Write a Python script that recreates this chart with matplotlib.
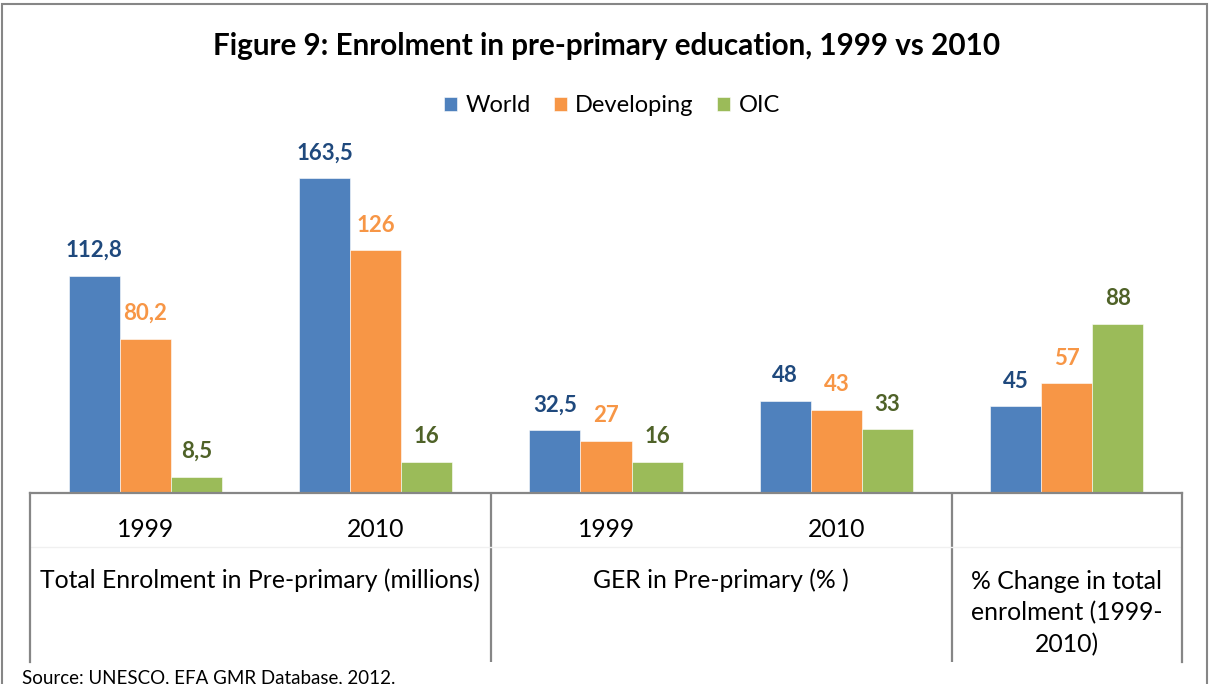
import matplotlib
matplotlib.use("Agg")
import matplotlib.pyplot as plt
from matplotlib.patches import Rectangle
import numpy as np

plt.rcParams['font.family'] = ['Lato', 'DejaVu Sans']

# Data
categories = ["1999", "2010", "1999", "2010", ""]
group_labels = ["Total Enrolment in Pre-primary (millions)",
                "GER in Pre-primary (% )",
                "% Change in total\nenrolment (1999-\n2010)"]
series_names = ["World", "Developing", "OIC"]
world = [112.8, 163.5, 32.5, 48, 45]
developing = [80.2, 126, 27, 43, 57]
oic = [8.5, 16, 16, 33, 88]

bar_colors = ["#4F81BD", "#F79646", "#9BBB59"]
label_colors = ["#1F497D", "#F79646", "#4F6228"]
axis_grey = "#868686"

W, H = 1212, 684
fig = plt.figure(figsize=(W / 100, H / 100), dpi=100)

def fx(px):
    return px / W

def fy(py):
    return 1 - py / H

# Plot area: baseline at y=493, left 30, right 1182
left, right, base, top = 30, 1182, 493, 150
ax = fig.add_axes([fx(left), fy(base), fx(right - left), (base - top) / H])
ax.set_xlim(-0.5, 4.5)
ax.set_ylim(0, (base - top) / 1.925)
ax.axis("off")
ax.axhline(0, color=axis_grey, lw=1.6, clip_on=False, zorder=5)

x = np.arange(len(categories))
bw = 0.2214
series = [world, developing, oic]
bars = []
for i, vals in enumerate(series):
    b = ax.bar(x + (i - 1) * bw, vals, width=bw, color=bar_colors[i],
               edgecolor="white", linewidth=0.4, label=series_names[i], zorder=3)
    bars.append(b)
    for xi, v in zip(x, vals):
        txt = f"{v:g}".replace(".", ",")
        ax.annotate(txt, (xi + (i - 1) * bw, v), xytext=(0, 13.5),
                    textcoords="offset points", ha="center", va="baseline",
                    fontsize=16, fontweight="bold", color=label_colors[i])

# Category table below the baseline
tbl_bottom = 662
ax2 = fig.add_axes([fx(left), fy(tbl_bottom), fx(right - left), (tbl_bottom - base) / H])
ax2.set_xlim(-0.5, 4.5)
ax2.set_ylim(tbl_bottom - base, 0)
ax2.set_xticks([])
ax2.set_yticks([])
for s in ["top", "bottom"]:
    ax2.spines[s].set_visible(False)
for s in ["left", "right"]:
    ax2.spines[s].set_color(axis_grey)
    ax2.spines[s].set_linewidth(1.6)
ax2.patch.set_alpha(0)
for xv in [1.5, 3.5]:
    ax2.axvline(xv, color=axis_grey, lw=1.6)
ax2.axhline(54, color="#f0f0f0", lw=1.0)

for xi, c in zip(x, categories):
    if c:
        ax2.text(xi, 537 - base, c, ha="center", va="baseline", fontsize=17.8, color="black")

# Group labels: first line baseline sits at y=588 px, lines 32 px apart
group_centers = [0.5, 2.5, 4.0]
for gc, gl in zip(group_centers, group_labels):
    n_lines = gl.count("\n")
    ax2.text(gc, 588 + 32 * n_lines - base, gl, ha="center", va="baseline",
             fontsize=17.8, color="black", linespacing=1.42,
             multialignment="center")

# Title and legend
fig.text(fx(607), fy(55), "Figure 9: Enrolment in pre-primary education, 1999 vs 2010",
         ha="center", va="baseline", fontsize=21.3, fontweight="bold", color="black")
fig.legend(handles=bars, labels=series_names, loc="center", ncol=3,
           bbox_to_anchor=(fx(612), fy(106)), frameon=False, fontsize=17,
           handlelength=0.55, handleheight=0.55, handletextpad=0.35,
           columnspacing=1.0, borderaxespad=0)

# Outer frame and source note
fig.add_artist(Rectangle((fx(2), -0.05), fx(1207 - 2), fy(4) + 0.05,
                         transform=fig.transFigure, fill=False,
                         edgecolor=axis_grey, lw=1.5))
fig.text(fx(22), fy(683), "Source: UNESCO, EFA GMR Database, 2012.",
         ha="left", va="baseline", fontsize=13.5, color="black")

fig.savefig("out.png", dpi=100)
